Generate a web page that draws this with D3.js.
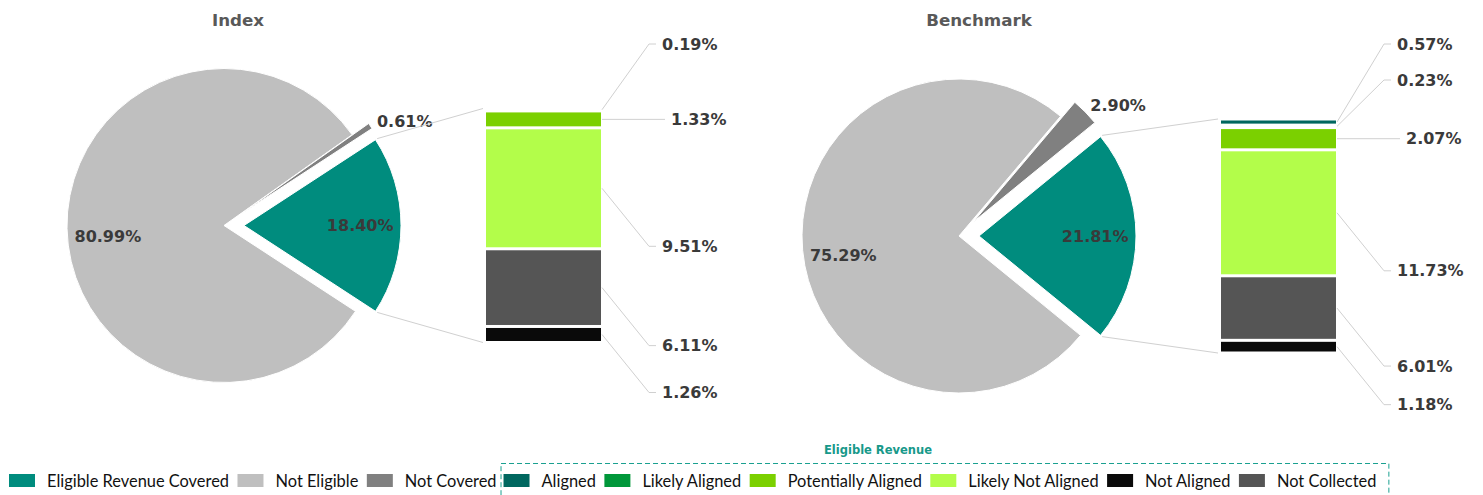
<!DOCTYPE html>
<meta charset="utf-8">
<script src="https://d3js.org/d3.v7.min.js"></script>
<style>
  body { margin: 0; background: #fff; }
</style>
<div id="chart"></div>
<script>

  // ---- data ----
  var pieCategories = ["Eligible Revenue Covered", "Not Eligible", "Not Covered"];
  var indexPie = [18.40, 80.99, 0.61];
  var benchmarkPie = [21.81, 75.29, 2.90];

  // eligible revenue split (legend order)
  var barCategories = ["Aligned", "Likely Aligned", "Potentially Aligned", "Likely Not Aligned", "Not Aligned", "Not Collected"];
  var indexBar = [0.19, 0, 1.33, 9.51, 1.26, 6.11];
  var benchmarkBar = [0.57, 0.23, 2.07, 11.73, 1.18, 6.01];
  // order from top of the stacked bar
  var stackOrder = ["Aligned", "Likely Aligned", "Potentially Aligned", "Likely Not Aligned", "Not Collected", "Not Aligned"];

  var chartTitles = ["Index", "Benchmark"];

  // ---- styles ----
  var pieColors = {"Eligible Revenue Covered": "#008c7e", "Not Eligible": "#bfbfbf", "Not Covered": "#808080"};
  var barColors = {"Aligned": "#00675f", "Likely Aligned": "#00973a", "Potentially Aligned": "#7bd000",
                   "Likely Not Aligned": "#b3fd4a", "Not Aligned": "#0a0a0a", "Not Collected": "#555555"};
  var slicedSet = {"Eligible Revenue Covered": true, "Not Covered": true};

  var width = 1483, height = 495;
  var labelFont = "'DejaVu Sans', Verdana, sans-serif";
  var legendFont = "Lato, 'Open Sans', sans-serif";

  var svg = d3.select("#chart").append("svg")
    .attr("width", width)
    .attr("height", height);

  // two panels
  var panels = [
    {title: chartTitles[0], pie: indexPie, bar: indexBar, cx: 224, cy: 225.5, titleX: 238},
    {title: chartTitles[1], pie: benchmarkPie, bar: benchmarkBar, cx: 959, cy: 236, titleX: 979}
  ];

  var r = 157, sliceOffset = 20, barGap = 262, barW = 115, barHalf = 117;

  function dir(a) { return [Math.sin(a), -Math.cos(a)]; }

  panels.forEach(function(p) {
    var g = svg.append("g");

    g.append("text")
      .attr("x", p.titleX).attr("y", 26)
      .attr("text-anchor", "middle")
      .style("font-family", labelFont).style("font-weight", "bold")
      .style("font-size", "16.7px").style("fill", "#595959")
      .text(p.title);

    // pie, teal slice centred on the right side
    var start = (Math.PI / 2) - (p.pie[0] / 100) * Math.PI;
    var pieGen = d3.pie().sort(null).startAngle(start).endAngle(start + 2 * Math.PI);
    var arcs = pieGen(p.pie);
    arcs.forEach(function(a, i) { a.name = pieCategories[i]; a.mid = (a.startAngle + a.endAngle) / 2; });

    var arc = d3.arc().innerRadius(0).outerRadius(r);

    function apex(a) {
      var off = slicedSet[a.name] ? sliceOffset : 0;
      var d = dir(a.mid);
      return [p.cx + d[0] * off, p.cy + d[1] * off];
    }

    g.selectAll("path.slice")
      .data(arcs)
      .enter().append("path")
        .attr("class", "slice")
        .attr("d", arc)
        .attr("transform", function(a) { var o = apex(a); return "translate(" + o[0] + "," + o[1] + ")"; })
        .style("fill", function(a) { return pieColors[a.name]; })
        .style("stroke", "#fff").style("stroke-width", 1);

    // slice labels
    arcs.forEach(function(a) {
      var o = apex(a), d = dir(a.mid);
      var txt = d3.format(".2f")(a.value) + "%";
      var big = (a.endAngle - a.startAngle) > 0.5;
      var t = g.append("text")
        .style("font-family", labelFont).style("font-weight", "bold")
        .style("font-size", "16px").style("fill", "#3a3a3a")
        .attr("dominant-baseline", "central")
        .text(txt);
      if (big) {
        // labels on the left half sit a little lower
        var dy = d[0] < 0 ? 9 : 0;
        t.attr("x", o[0] + d[0] * r * 0.74).attr("y", o[1] + d[1] * r * 0.74 + dy)
         .attr("text-anchor", "middle");
      } else {
        t.attr("x", o[0] + d[0] * (r + 14) - 5).attr("y", o[1] + d[1] * (r + 14) + 3)
         .attr("text-anchor", "start");
      }
    });

    // stacked bar of the eligible revenue
    var barX = p.cx + barGap;
    var barTop = p.cy - barHalf, barBottom = p.cy + barHalf;
    var stackVals = stackOrder.map(function(name) {
      return {name: name, value: p.bar[barCategories.indexOf(name)]};
    });
    var total = d3.sum(stackVals, function(d) { return d.value; });
    var y = d3.scaleLinear().domain([0, total]).range([barTop, barBottom]);
    var acc = 0;
    stackVals.forEach(function(d) { d.y0 = acc; acc += d.value; d.y1 = acc; });

    g.selectAll("rect.seg")
      .data(stackVals.filter(function(d) { return y(d.y1) - y(d.y0) > 3; }))
      .enter().append("rect")
        .attr("class", "seg")
        .attr("x", barX)
        .attr("width", barW)
        .attr("y", function(d) { return y(d.y0) + 1.5; })
        .attr("height", function(d) { return y(d.y1) - y(d.y0) - 3; })
        .style("fill", function(d) { return barColors[d.name]; });

    // connectors pie -> bar
    var teal = arcs[0];
    [[teal.startAngle, barTop], [teal.endAngle, barBottom]].forEach(function(c) {
      var o = apex(teal), d = dir(c[0]);
      g.append("line")
        .attr("x1", o[0] + d[0] * (r + 2)).attr("y1", o[1] + d[1] * (r + 2))
        .attr("x2", barX - 3).attr("y2", c[1])
        .style("stroke", "#d0d0d0").style("stroke-width", 1);
    });

    // bar labels: the potentially aligned one stays level, others are pushed away
    var anchorIdx = stackOrder.indexOf("Potentially Aligned");
    var shown = stackVals.map(function(d, i) { d.i = i; return d; }).filter(function(d) { return d.value > 0; });
    var above = 0, lastY = -Infinity;
    shown.forEach(function(d) {
      d.cy = y((d.y0 + d.y1) / 2);
      if (d.i < anchorIdx) { d.ly = 44 + 36 * above; above++; }
      else if (d.i === anchorIdx) { d.ly = d.cy; }
      else { d.ly = Math.max(d.cy + 58, lastY + 30); }
      lastY = d.ly;
    });

    var right = barX + barW;
    shown.forEach(function(d) {
      var pts, tx;
      if (d.i === anchorIdx) {
        pts = [[right + 1, d.cy], [right + 64, d.ly]];
        tx = right + 70;
      } else {
        pts = [[right + 1, d.cy], [right + 48, d.ly], [right + 55, d.ly]];
        tx = right + 61;
      }
      g.append("path")
        .attr("d", d3.line()(pts))
        .style("fill", "none").style("stroke", "#d0d0d0").style("stroke-width", 1);
      g.append("text")
        .attr("x", tx).attr("y", d.ly)
        .attr("dominant-baseline", "central")
        .style("font-family", labelFont).style("font-weight", "bold")
        .style("font-size", "16px").style("fill", "#3a3a3a")
        .text(d3.format(".2f")(d.value) + "%");
    });
  });

  // ---- legend ----
  var legend = svg.append("g");
  var legendY = 474, swW = 26, swH = 13;
  var lx = 9;

  function legendItem(name, color) {
    legend.append("rect")
      .attr("x", lx).attr("y", legendY).attr("width", swW).attr("height", swH)
      .style("fill", color);
    var t = legend.append("text")
      .attr("x", lx + swW + 12).attr("y", legendY + 12.5)
      .style("font-family", legendFont).style("font-size", "16.4px").style("fill", "#111")
      .text(name);
    var w = t.node().getComputedTextLength();
    lx = lx + swW + 12 + w + 8.5;
  }

  pieCategories.forEach(function(c) { legendItem(c, pieColors[c]); });

  var boxX = lx - 4;
  lx = boxX + 2.5;
  barCategories.forEach(function(c) { legendItem(c, barColors[c]); });
  var boxRight = lx + 4;

  legend.append("rect")
    .attr("x", boxX).attr("y", 463.5)
    .attr("width", boxRight - boxX).attr("height", 60)
    .style("fill", "none").style("stroke", "#1aa090").style("stroke-width", 1)
    .style("stroke-dasharray", "5,3");

  legend.append("text")
    .attr("x", 878).attr("y", 454)
    .attr("text-anchor", "middle")
    .style("font-family", labelFont).style("font-weight", "bold")
    .style("font-size", "11.5px").style("fill", "#17998a")
    .text("Eligible Revenue");

</script>
